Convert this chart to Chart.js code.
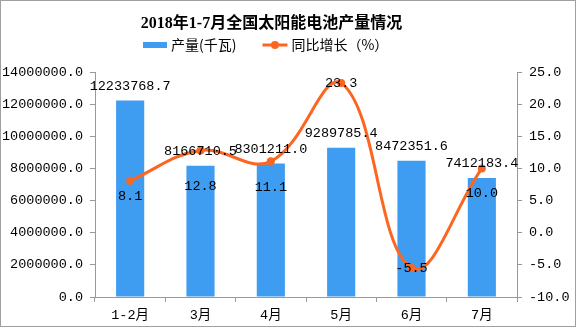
<!DOCTYPE html>
<html>
<head>
<meta charset="utf-8">
<script src="https://cdn.jsdelivr.net/npm/chart.js@4/dist/chart.umd.min.js"></script>
<style>
  body { margin: 0; background: #fff; }
  #box { width: 576px; height: 327px; border: 1px solid #a0a0a0; box-sizing: border-box; }
</style>
</head>
<body>
<div id="box"><canvas id="chart"></canvas></div>
<script>
const categories = ['1-2月', '3月', '4月', '5月', '6月', '7月'];
const output = [12233768.7, 8166710.5, 8301211.0, 9289785.4, 8472351.6, 7412183.4];
const growth = [8.1, 12.8, 11.1, 23.3, -5.5, 10.0];

const monoFont = "'Liberation Mono', 'Noto Sans CJK SC', monospace";
const barColor = '#3e9df0';
const lineColor = '#fd6620';

// labels for the bars sit above, the line values below (max/min on the point)
const valueLabels = {
    id: 'valueLabels',
    afterLayout(chart) {
        // the original title is centred a bit left of the canvas middle
        chart.titleBlock.right -= 33;
    },
    afterDatasetsDraw(chart) {
        const ctx = chart.ctx;
        ctx.save();
        ctx.font = '13.5px ' + monoFont;
        ctx.fillStyle = '#000';
        ctx.textAlign = 'center';
        ctx.textBaseline = 'middle';
        chart.getDatasetMeta(0).data.forEach((el, i) => {
            ctx.fillText(output[i].toFixed(1), el.x, el.y - 14);
        });
        const lineDy = [16, 36, 26, 0, 0, 25];
        chart.getDatasetMeta(1).data.forEach((el, i) => {
            ctx.fillText(growth[i].toFixed(1), el.x, el.y + lineDy[i]);
        });
        ctx.restore();
    },
    afterDraw(chart) {
        // legend: blue box + text, orange line with dot + text
        const ctx = chart.ctx;
        const ds = chart.data.datasets;
        const y = 44;
        let x = 142;
        ctx.save();
        ctx.font = "14px 'Noto Sans CJK SC', sans-serif";
        ctx.textBaseline = 'middle';
        ctx.fillStyle = ds[0].backgroundColor;
        ctx.fillRect(x, y - 3, 24, 6);
        x += 28;
        ctx.fillStyle = '#000';
        ctx.fillText(ds[0].label, x, y);
        x += ctx.measureText(ds[0].label).width + 26;
        ctx.strokeStyle = ds[1].borderColor;
        ctx.lineWidth = 3;
        ctx.beginPath();
        ctx.moveTo(x, y);
        ctx.lineTo(x + 25, y);
        ctx.stroke();
        ctx.fillStyle = ds[1].borderColor;
        ctx.beginPath();
        ctx.arc(x + 12.5, y, 4, 0, Math.PI * 2);
        ctx.fill();
        x += 29;
        ctx.fillStyle = '#000';
        ctx.fillText(ds[1].label, x, y);
        ctx.restore();
    }
};

new Chart(document.getElementById('chart'), {
    data: {
        labels: categories,
        datasets: [
            {
                type: 'bar',
                label: '产量(千瓦)',
                data: output,
                backgroundColor: barColor,
                borderWidth: 0,
                yAxisID: 'y',
                order: 1,
                categoryPercentage: 0.8,
                barPercentage: 0.5
            },
            {
                type: 'line',
                label: '同比增长（%）',
                data: growth,
                borderColor: lineColor,
                backgroundColor: lineColor,
                borderWidth: 3,
                pointRadius: 4,
                pointBackgroundColor: lineColor,
                pointBorderWidth: 0,
                tension: 0.4,
                yAxisID: 'y1',
                order: 0
            }
        ]
    },
    options: {
        responsive: true,
        maintainAspectRatio: false,
        animation: false,
        plugins: {
            tooltip: { enabled: false },
            legend: { display: false },
            title: {
                display: true,
                text: '2018年1-7月全国太阳能电池产量情况',
                color: '#000',
                font: { family: "'Liberation Serif', 'Noto Sans CJK SC', serif", size: 16, weight: 'bold' },
                padding: { top: 13, bottom: 38.8 }
            }
        },
        scales: {
            x: {
                offset: true,
                grid: { display: true, drawOnChartArea: false, tickLength: 5, color: '#999', offset: true },
                border: { color: '#999' },
                ticks: { color: '#000', padding: 5, font: { family: monoFont, size: 13.5 } },
                afterFit(s) { s.height = 29; }
            },
            y: {
                position: 'left',
                min: 0,
                max: 14000000,
                ticks: {
                    stepSize: 2000000,
                    color: '#000',
                    padding: 7,
                    font: { family: monoFont, size: 13.5 },
                    callback: v => Number(v).toFixed(1)
                },
                grid: { drawOnChartArea: false, tickLength: 5, color: '#999' },
                border: { color: '#999' },
                afterFit(s) { s.width = 94; }
            },
            y1: {
                position: 'right',
                min: -10,
                max: 25,
                ticks: {
                    stepSize: 5,
                    color: '#000',
                    padding: 7,
                    font: { family: monoFont, size: 13.5 },
                    callback: v => Number(v).toFixed(1)
                },
                grid: { drawOnChartArea: false, tickLength: 5, color: '#999' },
                border: { color: '#999' },
                afterFit(s) { s.width = 58; }
            }
        }
    },
    plugins: [valueLabels]
});
</script>
</body>
</html>
